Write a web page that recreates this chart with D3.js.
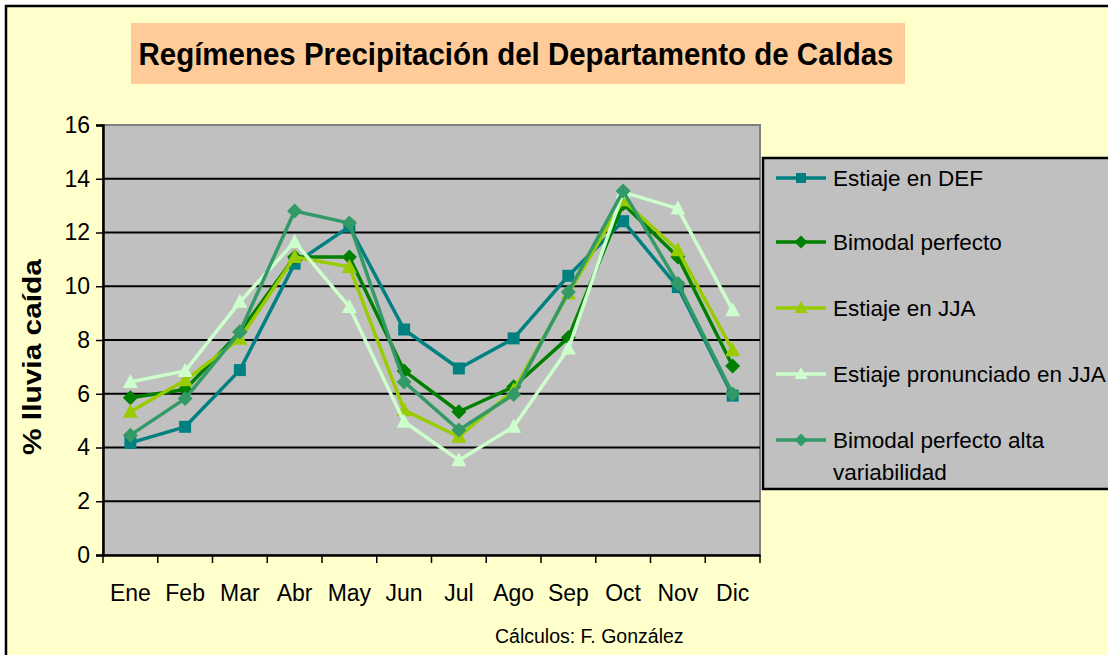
<!DOCTYPE html>
<html>
<head>
<meta charset="utf-8">
<script src="https://cdn.jsdelivr.net/npm/d3@7"></script>
<style>
  html, body { margin: 0; padding: 0; background: #ffffff; }
  svg { display: block; font-family: "Liberation Sans", Arial, sans-serif; }
</style>
</head>
<body>
<svg id="chart" width="1108" height="655"></svg>
<script>
// Meses del año
const months = ["Ene", "Feb", "Mar", "Abr", "May", "Jun", "Jul", "Ago", "Sep", "Oct", "Nov", "Dic"];
const yTicks = [0, 2, 4, 6, 8, 10, 12, 14, 16];

// Porcentaje mensual de lluvia por régimen
const estiajeDEF = [4.17, 4.77, 6.88, 10.84, 12.22, 8.39, 6.94, 8.06, 10.39, 12.42, 9.97, 5.93];
const bimodalPerfecto = [5.85, 6.16, 8.30, 11.09, 11.09, 6.85, 5.33, 6.26, 8.09, 13.07, 11.09, 7.03];
const estiajeJJA = [5.33, 6.50, 8.05, 11.09, 10.72, 5.39, 4.40, 6.13, 9.73, 13.20, 11.34, 7.62];
const estiajePronunciadoJJA = [6.44, 6.85, 9.42, 11.65, 9.23, 4.96, 3.53, 4.77, 7.68, 13.50, 12.89, 9.11];
const bimodalAltaVariabilidad = [4.46, 5.82, 8.30, 12.80, 12.35, 6.44, 4.65, 5.97, 9.79, 13.54, 10.10, 5.99];

const seriesNames = [
  "Estiaje en DEF",
  "Bimodal perfecto",
  "Estiaje en JJA",
  "Estiaje pronunciado en JJA",
  "Bimodal perfecto alta variabilidad"
];
const seriesColors = ["#008080", "#008000", "#99CC00", "#CCFFCC", "#339966"];
const seriesMarkers = ["square", "diamond", "triangle", "triangle", "diamond"];

const series = [estiajeDEF, bimodalPerfecto, estiajeJJA, estiajePronunciadoJJA, bimodalAltaVariabilidad]
  .map((values, i) => ({ name: seriesNames[i], color: seriesColors[i], marker: seriesMarkers[i], values }));

const svg = d3.select("#chart");

// Fondo del gráfico con su marco
svg.append("rect").attr("x", 0).attr("y", 0).attr("width", 1108).attr("height", 655).attr("fill", "#ffffff");
svg.append("rect")
  .attr("x", 6).attr("y", 6).attr("width", 1200).attr("height", 700)
  .attr("fill", "#FFFFCC").attr("stroke", "#000").attr("stroke-width", 2.5);

// Título
svg.append("rect").attr("x", 131).attr("y", 23).attr("width", 774).attr("height", 61).attr("fill", "#FFCC99");
svg.append("text")
  .attr("x", 516).attr("y", 65)
  .attr("text-anchor", "middle")
  .attr("font-size", 32).attr("font-weight", "bold").attr("fill", "#000")
  .attr("textLength", 755).attr("lengthAdjust", "spacingAndGlyphs")
  .text("Regímenes Precipitación del Departamento de Caldas");

// Área de trazado
const plot = { left: 103, right: 760, top: 125, bottom: 555 };
const x = d3.scaleBand().domain(months).range([plot.left, plot.right]).padding(0);
const y = d3.scaleLinear().domain([0, 16]).range([plot.bottom, plot.top]);

svg.append("rect")
  .attr("x", plot.left).attr("y", plot.top)
  .attr("width", plot.right - plot.left).attr("height", plot.bottom - plot.top)
  .attr("fill", "#C0C0C0").attr("stroke", "#808080").attr("stroke-width", 2);

// Líneas de cuadrícula
svg.append("g").selectAll("line")
  .data(yTicks.filter(d => d > 0 && d < 16))
  .join("line")
  .attr("x1", plot.left).attr("x2", plot.right)
  .attr("y1", d => y(d)).attr("y2", d => y(d))
  .attr("stroke", "#000").attr("stroke-width", 2);

// Eje Y
const yAxis = svg.append("g")
  .attr("transform", `translate(${plot.left},0)`)
  .call(d3.axisLeft(y).tickValues(yTicks).tickSize(7).tickPadding(6).tickFormat(d3.format("d")));
yAxis.select(".domain").attr("stroke", "#000").attr("stroke-width", 2.5);
yAxis.selectAll(".tick line").attr("stroke", "#000").attr("stroke-width", 1.5);
yAxis.selectAll(".tick text")
  .attr("font-size", 23).attr("fill", "#000")
  .attr("font-family", "'Liberation Sans', Arial, sans-serif");

// Eje X: etiquetas centradas, marcas en los límites de cada mes
const xAxis = svg.append("g")
  .attr("transform", `translate(0,${plot.bottom})`)
  .call(d3.axisBottom(x).tickSize(0).tickPadding(30));
xAxis.select(".domain").attr("stroke", "#000").attr("stroke-width", 2.5);
xAxis.selectAll(".tick text")
  .attr("font-size", 23).attr("fill", "#000")
  .attr("font-family", "'Liberation Sans', Arial, sans-serif");

const boundaries = months.map(m => x(m)).concat([x.range()[1]]);
svg.append("g").selectAll("line")
  .data(boundaries)
  .join("line")
  .attr("x1", d => d).attr("x2", d => d)
  .attr("y1", plot.bottom).attr("y2", plot.bottom + 8)
  .attr("stroke", "#000").attr("stroke-width", 1.5);

// Título del eje Y
svg.append("text")
  .attr("transform", `translate(41,357) rotate(-90)`)
  .attr("text-anchor", "middle")
  .attr("font-size", 26).attr("font-weight", "bold").attr("fill", "#000")
  .attr("textLength", 196).attr("lengthAdjust", "spacingAndGlyphs")
  .text("% lluvia caída");

// Símbolos de los marcadores
function markerPath(type, size) {
  const s = size / 2;
  if (type === "square") return `M${-s},${-s}H${s}V${s}H${-s}Z`;
  if (type === "diamond") return `M0,${-s - 1.5}L${s + 1.5},0L0,${s + 1.5}L${-s - 1.5},0Z`;
  return `M0,${-s - 2}L${s + 1.5},${s}L${-s - 1.5},${s}Z`;
}

const line = d3.line()
  .x((d, i) => x(months[i]) + x.bandwidth() / 2)
  .y(d => y(d));

const seriesG = svg.append("g").selectAll("g").data(series).join("g");
seriesG.append("path")
  .attr("d", d => line(d.values))
  .attr("fill", "none")
  .attr("stroke", d => d.color)
  .attr("stroke-width", 3.5)
  .attr("stroke-linejoin", "round");
seriesG.each(function (s) {
  d3.select(this).selectAll("path.mk")
    .data(s.values)
    .join("path")
    .attr("class", "mk")
    .attr("transform", (d, i) => `translate(${x(months[i]) + x.bandwidth() / 2},${y(d)})`)
    .attr("d", markerPath(s.marker, 12))
    .attr("fill", s.color);
});

// Leyenda
const legend = svg.append("g");
legend.append("rect")
  .attr("x", 763).attr("y", 158).attr("width", 400).attr("height", 331)
  .attr("fill", "#C0C0C0").attr("stroke", "#000").attr("stroke-width", 2.5);

const legendRows = [178, 242, 308, 374, 440];
const legendLines = [["Estiaje en DEF"], ["Bimodal perfecto"], ["Estiaje en JJA"], ["Estiaje pronunciado en JJA"], ["Bimodal perfecto alta", "variabilidad"]];
series.forEach((s, i) => {
  const ly = legendRows[i];
  legend.append("line")
    .attr("x1", 776).attr("x2", 826).attr("y1", ly).attr("y2", ly)
    .attr("stroke", s.color).attr("stroke-width", 3.5);
  legend.append("path")
    .attr("transform", `translate(801,${ly})`)
    .attr("d", markerPath(s.marker, 10))
    .attr("fill", s.color);
  const t = legend.append("text")
    .attr("x", 833).attr("y", ly + 8)
    .attr("font-size", 22.5).attr("fill", "#000");
  legendLines[i].forEach((txt, k) => {
    t.append("tspan").attr("x", 833).attr("dy", k === 0 ? 0 : 32).text(txt);
  });
});

// Nota de autoría
svg.append("text")
  .attr("x", 495).attr("y", 643)
  .attr("font-size", 19.5).attr("fill", "#000")
  .text("Cálculos: F. González");
</script>
</body>
</html>
